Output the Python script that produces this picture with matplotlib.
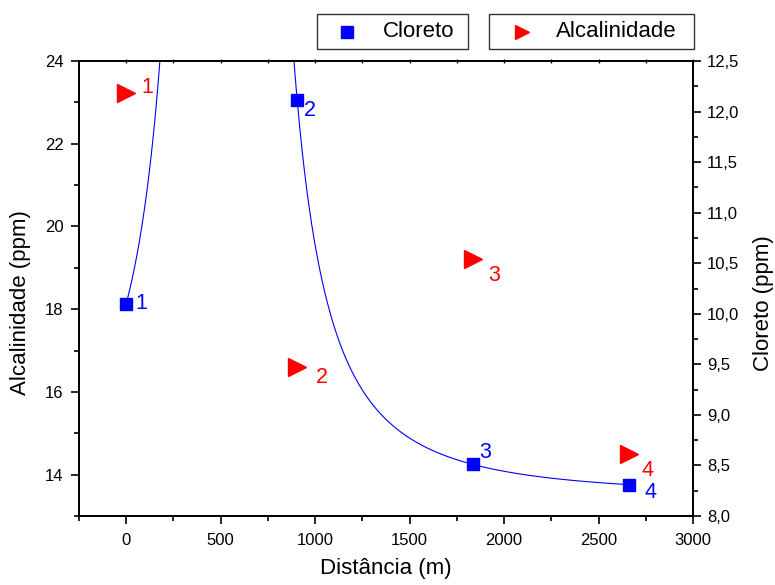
import numpy as np
import matplotlib
matplotlib.use('Agg')
import matplotlib.pyplot as plt
from matplotlib.ticker import MultipleLocator, FuncFormatter
from matplotlib.lines import Line2D
from matplotlib.patches import Rectangle

plt.rcParams['font.family'] = ['Liberation Sans', 'DejaVu Sans']

# data
dist = [0, 905, 1835, 2660]
alcalinidade = [23.23, 16.61, 19.22, 14.51]
cloreto = [10.10, 12.11, 8.51, 8.31]
point_labels = ['1', '2', '3', '4']

# curve through the cloreto points: y = a + b/(x-c)^2, best c by grid
xd = np.array(dist, dtype=float)
yd = np.array(cloreto)
best = None
for c in np.linspace(300, 800, 2001):
    A = np.column_stack([np.ones_like(xd), 1.0 / (xd - c) ** 2])
    coef, res, _, _ = np.linalg.lstsq(A, yd, rcond=None)
    err = np.sum((A @ coef - yd) ** 2)
    if best is None or err < best[0]:
        best = (err, c, coef)
_, c_fit, (a_fit, b_fit) = best
xs = np.linspace(dist[0], dist[-1], 3000)
ys = a_fit + b_fit / (xs - c_fit) ** 2
ys[ys > 13] = np.nan

W, H = 775, 585
fig = plt.figure(figsize=(W / 100, H / 100), dpi=100)
ax = fig.add_axes([79 / W, 1 - 516 / H, 614 / W, 455 / H])
ax2 = ax.twinx()

ax.set_xlim(-250, 3000)
ax.set_ylim(13, 24)
ax2.set_ylim(8.0, 12.5)

ax2.plot(xs, ys, color='blue', lw=0.8)
ax2.plot(dist, cloreto, 's', color='blue', ms=9.3, ls='none')
ax.plot(dist, alcalinidade, '>', color='red', ms=12.5, ls='none', mec='red')

# point numbers
alc_off = [(21, 5), (25, -11), (21, -17), (19, -17)]
clo_off = [(15, 0), (13, -10), (12, 12), (22, -8)]
for i, lab in enumerate(point_labels):
    ax.annotate(lab, (dist[i], alcalinidade[i]), xytext=alc_off[i],
                textcoords='offset pixels', color='red', fontsize=15.5,
                ha='center', va='center')
    ax2.annotate(lab, (dist[i], cloreto[i]), xytext=clo_off[i],
                 textcoords='offset pixels', color='blue', fontsize=15.5,
                 ha='center', va='center')

ax.xaxis.set_major_locator(MultipleLocator(500))
ax.xaxis.set_minor_locator(MultipleLocator(250))
ax.yaxis.set_major_locator(MultipleLocator(2))
ax.yaxis.set_minor_locator(MultipleLocator(1))
ax2.yaxis.set_major_locator(MultipleLocator(0.5))
ax2.yaxis.set_minor_locator(MultipleLocator(0.25))
ax2.yaxis.set_major_formatter(FuncFormatter(lambda v, p: f'{v:.1f}'.replace('.', ',')))

ax.tick_params(which='both', direction='out', labelsize=12, width=1.2)
ax.tick_params(which='major', length=6)
ax.tick_params(which='minor', length=3.5)
ax.tick_params(axis='y', which='major', pad=5)
ax.tick_params(axis='x', which='major', pad=6)
ax2.tick_params(which='both', direction='out', labelsize=12, width=1.2)
ax2.tick_params(which='major', length=6, pad=4)
ax2.tick_params(which='minor', length=3.5)
for a in (ax, ax2):
    for s in a.spines.values():
        s.set_linewidth(1.3)

ax.set_xlabel('Distância (m)', fontsize=16)
ax.set_ylabel('Alcalinidade (ppm)', fontsize=16)
ax2.set_ylabel('Cloreto (ppm)', fontsize=16)
ax.xaxis.set_label_coords(0.5, -0.092)
ax.yaxis.set_label_coords(-0.078, 0.47)
ax2.yaxis.set_label_coords(1.098, 0.468)

# tiny ticks on the top edge
top = ax.secondary_xaxis('top')
top.set_xticks(np.arange(0, 3001, 250))
top.tick_params(direction='inout', length=2.5, width=1, labeltop=False)
top.spines['top'].set_linewidth(1.3)

# two separate legend boxes above the plot (figure pixels)
def fx(px):
    return px / W

def fy(py):
    return 1 - py / H

boxes = [
    (317, 468, 347, 383, 's', 'blue', 8.5, 'Cloreto'),
    (489, 694, 522, 556, '>', 'red', 10.5, 'Alcalinidade'),
]
for x0, x1, mx, tx, mk, col, msz, name in boxes:
    fig.add_artist(Rectangle((fx(x0), fy(49)), fx(x1) - fx(x0), fy(14) - fy(49),
                             transform=fig.transFigure, fill=False,
                             edgecolor='#333333', lw=1.0))
    fig.add_artist(Line2D([fx(mx)], [fy(31.5)], marker=mk, color=col, ms=msz,
                          ls='none', transform=fig.transFigure))
    fig.text(fx(tx), fy(31.5), name, fontsize=16, ha='left', va='center')

fig.savefig('out.png', dpi=100)
